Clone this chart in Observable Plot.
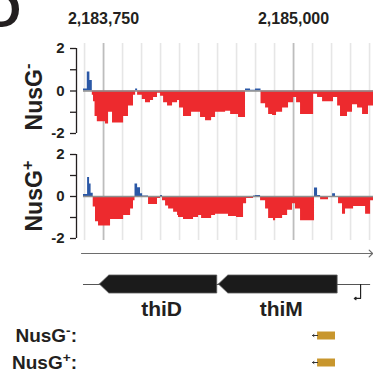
<!DOCTYPE html>
<html><head><meta charset="utf-8">
<script src="https://cdn.jsdelivr.net/npm/d3@7"></script>
<script src="https://cdn.jsdelivr.net/npm/@observablehq/plot@0.6"></script>
<style>
body{margin:0;background:#fff;}
#fig{position:relative;width:373px;height:372px;overflow:hidden;font-family:"Liberation Sans",Arial,sans-serif;font-weight:bold;color:#231f20;background:#fff;}
#fig svg{position:absolute;left:0;}
.lab{position:absolute;white-space:nowrap;line-height:1;}
.lab sup{font-size:0.72em;vertical-align:0.5em;line-height:0;}
</style></head><body><div id="fig"></div>
<script>
// ---- data ----
const positionTicks = [2183750, 2185000];
const gridLines = [2183625, 2183750, 2183875, 2184000, 2184125, 2184250, 2184375, 2184500, 2184625, 2184750, 2184875, 2185000, 2185125, 2185250, 2185375, 2185500];
const majorGrid = [2183750, 2185000];
const xDomain = [2183572, 2185526];
const signalStart = 2183618, signalEnd = 2185526;
const yTicks = [-2, -1, 0, 1, 2];

const nusgMinusPos = [2183618, 2183643, 2183660, 2183676, 2183684, 2183694, 2183709, 2183763, 2183783, 2183809, 2183882, 2183914, 2183947, 2183961, 2183974, 2184005, 2184026, 2184059, 2184079, 2184105, 2184125, 2184145, 2184171, 2184204, 2184237, 2184250, 2184276, 2184329, 2184388, 2184421, 2184461, 2184487, 2184553, 2184586, 2184638, 2184684, 2184717, 2184750, 2184786, 2184816, 2184836, 2184862, 2184888, 2184928, 2184967, 2185000, 2185020, 2185046, 2185132, 2185158, 2185191, 2185263, 2185290, 2185309, 2185355, 2185388, 2185421, 2185454, 2185493];
const nusgMinusVal = [0.1, 0.9, 0.5, -0.2, -0.5, -1.2, -1.45, -1.55, -1.0, -1.5, -1.2, -0.7, -0.2, 0.1, -0.2, -0.4, -0.55, -0.45, -0.3, -0.1, -0.25, -0.55, -0.7, -0.55, -0.45, -0.8, -1.2, -1.0, -1.25, -1.4, -1.25, -1.0, -0.95, -1.1, -1.25, 0.1, 0.03, 0.1, -0.6, -0.8, -1.1, -1.15, -1.0, -0.8, -0.55, -0.3, -0.55, -1.1, -0.15, -0.3, -0.5, -0.3, -0.7, -1.2, -1.0, -0.65, -0.8, -1.1, -0.7];

const nusgPlusPos = [2183618, 2183645, 2183658, 2183668, 2183682, 2183697, 2183717, 2183796, 2183882, 2183928, 2183947, 2183957, 2183974, 2183993, 2184007, 2184046, 2184105, 2184125, 2184138, 2184158, 2184178, 2184211, 2184237, 2184243, 2184276, 2184342, 2184375, 2184395, 2184461, 2184487, 2184572, 2184625, 2184671, 2184691, 2184737, 2184750, 2184783, 2184816, 2184836, 2184868, 2184882, 2184928, 2184961, 2184993, 2185013, 2185046, 2185138, 2185158, 2185178, 2185230, 2185257, 2185276, 2185296, 2185322, 2185342, 2185395, 2185474, 2185507];
const nusgPlusVal = [0.1, 0.9, 0.6, 0.15, -0.5, -1.2, -1.4, -1.1, -0.9, -0.6, -0.2, 0.6, 0.42, 0.13, 0.02, -0.38, -0.1, 0.05, -0.2, -0.45, -0.6, -0.75, -0.9, -1.0, -1.1, -1.0, -0.9, -1.05, -0.9, -0.85, -0.95, -1.0, -0.35, -0.1, 0.02, 0.05, -0.2, -0.6, -1.05, -1.15, -1.05, -0.9, -0.65, -0.35, -0.6, -1.15, 0.4, 0.05, -0.15, 0.0, 0.13, 0.0, -0.35, -0.85, -0.6, -0.48, -0.85, -0.2];

const axisArrow = [2183605, 2185520];
const trackLine = [2183618, 2185507];
const geneNames = ["thiD", "thiM"];
const geneTip = [2183726, 2184509];
const geneEnd = [2184498, 2185290];
const tipLength = 62;
const promoterPos = 2185441;
const promoterArrowEnd = 2185400;

const termRows = ["NusG-", "NusG+"];
const termStart = [2185158, 2185158];
const termEnd = [2185276, 2185276];
const termArrowTip = [2185125, 2185125];

// ---- styles ----
const RED = "#ed2a2e", BLUE = "#2b58a6", GOLD = "#c8962d";
const FONT = '"Liberation Sans", Arial, sans-serif';
const fig = document.getElementById("fig");
function place(svg, top) { svg.style.top = top + "px"; fig.appendChild(svg); }

function panel(pos, val, o) {
  const pts = pos.map((x, i) => ({x, v: val[i]}));
  pts.push({x: signalEnd, v: val[val.length - 1]});
  return Plot.plot({
    width: 373, height: o.height, marginLeft: 76, marginRight: 0,
    marginTop: o.marginTop, marginBottom: o.marginBottom,
    style: {fontFamily: FONT, color: "#231f20", background: "transparent", overflow: "visible"},
    x: {domain: xDomain, axis: null},
    y: {domain: [-2, 2], axis: null},
    marks: [
      Plot.ruleX(gridLines.filter(d => !majorGrid.includes(d)), {stroke: "#e6e6e6", strokeWidth: 1.6, insetTop: o.gridTop, insetBottom: o.gridBottom}),
      Plot.ruleX(majorGrid, {stroke: "#bdbdbd", strokeWidth: 1.8, insetTop: o.gridTop, insetBottom: o.gridBottom}),
      Plot.area(pts, {x1: "x", y1: 0, y2: d => Math.min(d.v, 0), curve: "step-after", fill: RED}),
      Plot.area(pts, {x1: "x", y1: 0, y2: d => Math.max(d.v, 0), curve: "step-after", fill: BLUE}),
      Plot.ruleY([0], {x1: signalStart, x2: signalEnd, stroke: "#8e8e8e", strokeWidth: 1.6}),
      Plot.ruleX([xDomain[0]], {y1: yTicks[0], y2: yTicks[yTicks.length - 1], stroke: "#231f20", strokeWidth: 1.3}),
      Plot.axisY({ticks: yTicks, tickSize: 6, tickPadding: 6, strokeWidth: 1.3,
        tickFormat: d => (d % 2 === 0 ? String(d) : ""), fontSize: 15, fontWeight: "bold", label: null}),
      o.showTicks ? Plot.text(positionTicks, {x: d => d, frameAnchor: "top", dy: -25, lineAnchor: "bottom",
        text: d => d3.format(",")(d), fontSize: 16, fontWeight: "bold"}) : null
    ]
  });
}

place(panel(nusgMinusPos, nusgMinusVal, {height: 140, marginTop: 48, marginBottom: 7, gridTop: -5, gridBottom: -7, showTicks: true}), 0);
place(panel(nusgPlusPos, nusgPlusVal, {height: 102, marginTop: 14, marginBottom: 4, gridTop: -14, gridBottom: -2, showTicks: false}), 140);

// coordinate arrow
place(Plot.plot({
  width: 373, height: 14, marginLeft: 76, marginRight: 0, marginTop: 0, marginBottom: 0,
  style: {background: "transparent", overflow: "visible"},
  x: {domain: xDomain, axis: null}, y: {domain: [-1, 1], axis: null},
  marks: [Plot.arrow([axisArrow], {x1: d => d[0], x2: d => d[1], y1: 0, y2: 0, stroke: "#6d6d6d", strokeWidth: 1.2, headLength: 6, headAngle: 90})]
}), 246);

// gene track
const geneShapes = geneNames.flatMap((g, i) => [
  {g, x: geneTip[i], lo: 0, hi: 0},
  {g, x: geneTip[i] + tipLength, lo: -1, hi: 1},
  {g, x: geneEnd[i], lo: -1, hi: 1}
]);
place(Plot.plot({
  width: 373, height: 55, marginLeft: 76, marginRight: 0, marginTop: 10, marginBottom: 27,
  style: {fontFamily: FONT, color: "#231f20", background: "transparent", overflow: "visible"},
  x: {domain: xDomain, axis: null}, y: {domain: [-1, 1], axis: null},
  marks: [
    Plot.ruleY([0], {x1: trackLine[0], x2: trackLine[1], stroke: "#555", strokeWidth: 1.2}),
    Plot.area(geneShapes, {x1: "x", y1: "lo", y2: "hi", z: "g", fill: "#1b1b1b", stroke: "#5a5a5a", strokeWidth: 0.8}),
    Plot.text(geneNames, {x: (d, i) => (geneTip[i] + geneEnd[i]) / 2, y: -1, dy: 22, dx: 3, lineAnchor: "bottom", text: d => d, fontSize: 21, fontWeight: "bold"}),
    Plot.ruleX([promoterPos], {y1: 0, y2: -1.55, stroke: "#222", strokeWidth: 1.2}),
    Plot.arrow([promoterPos], {x1: d => d, x2: promoterArrowEnd, y1: -1.55, y2: -1.55, stroke: "#222", strokeWidth: 1.2, headLength: 4, headAngle: 70})
  ]
}), 265);

// termination rows
place(Plot.plot({
  width: 373, height: 52, marginLeft: 76, marginRight: 0, marginTop: 0, marginBottom: 0,
  style: {background: "transparent", overflow: "visible"},
  x: {domain: xDomain, axis: null},
  y: {type: "point", domain: termRows, range: [15, 42], padding: 0, axis: null},
  marks: [
    Plot.ruleY(termRows, {y: d => d, x1: (d, i) => termStart[i], x2: (d, i) => termEnd[i], stroke: GOLD, strokeWidth: 8}),
    Plot.arrow(termRows, {x1: (d, i) => termStart[i], x2: (d, i) => termArrowTip[i], y1: d => d, y2: d => d, stroke: "#333", strokeWidth: 1, headLength: 3, headAngle: 70})
  ]
}), 320);

// HTML labels
function label(html, css) {
  const d = document.createElement("div");
  d.className = "lab"; d.innerHTML = html;
  Object.assign(d.style, css);
  fig.appendChild(d);
}
label("D", {left: "-15px", top: "-15px", fontSize: "50px"});
label("NusG<sup>-</sup>", {left: "34px", top: "97px", fontSize: "23px", transform: "translate(-50%,-50%) rotate(-90deg)"});
label("NusG<sup>+</sup>", {left: "34px", top: "196px", fontSize: "23px", transform: "translate(-50%,-50%) rotate(-90deg)"});
label("NusG<sup>-</sup>:", {right: "296px", top: "335px", fontSize: "19px", transform: "translateY(-50%)"});
label("NusG<sup>+</sup>:", {right: "296px", top: "362px", fontSize: "19px", transform: "translateY(-50%)"});
</script></body></html>
